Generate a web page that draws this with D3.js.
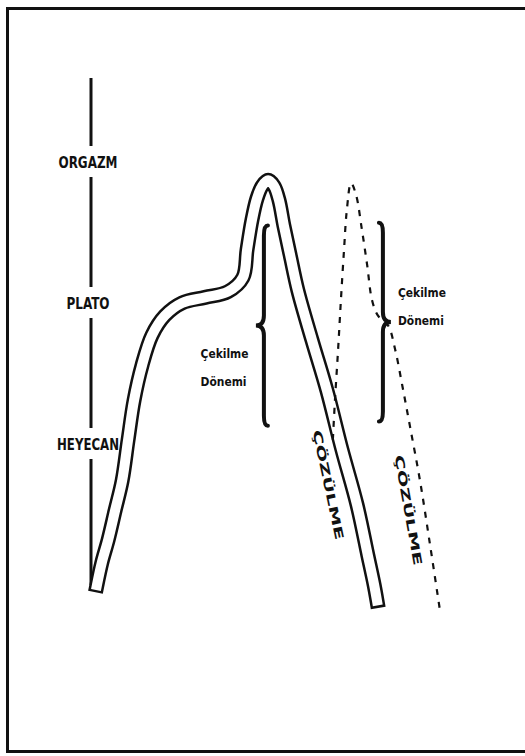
<!DOCTYPE html>
<html>
<head>
<meta charset="utf-8">
<script src="https://cdn.jsdelivr.net/npm/d3@7"></script>
<style>
  html, body { margin: 0; padding: 0; background: #fff; overflow: hidden; }
  svg { display: block; }
  text { font-family: "Liberation Sans Narrow", "DejaVu Sans Condensed", "Liberation Sans", sans-serif; fill: #111; }
</style>
</head>
<body>
<svg id="chart"></svg>
<script>
// response cycle sketch: time on x (0-100), level on y (0 base .. 3 orgasm)
const W = 525, H = 756;

const levelNames = ['HEYECAN', 'PLATO', 'ORGAZM'];
const levelValues = [1, 2, 3];

// first cycle (centre line of the double band)
const cycleT = [1.7, 3.1, 4.9, 6.9, 8.9, 10.6, 12.3, 14.6, 17.4, 21.1, 26, 32.6, 39.1, 43.4, 44.6, 46, 47.4, 48.9, 50.6, 52.3, 53.7, 55.1, 56.9, 59.1, 63.1, 67.4, 71.7, 76, 79.1, 80.9, 81.7];
const cycleL = [0, 0.16, 0.32, 0.53, 0.74, 1.03, 1.31, 1.56, 1.77, 1.91, 2.0, 2.04, 2.08, 2.18, 2.38, 2.59, 2.74, 2.83, 2.87, 2.83, 2.73, 2.55, 2.34, 2.09, 1.74, 1.38, 0.96, 0.57, 0.21, 0.0, -0.11];

// second (dashed) cycle
const secondT = [69.1, 69.7, 70.6, 71.4, 72.3, 73.1, 74.3, 75.7, 77.4, 78.9, 80.3, 82, 84.9, 86.9, 88.9, 91.1, 94, 96.9, 99.7];
const secondL = [1.03, 1.31, 1.67, 2.02, 2.38, 2.66, 2.85, 2.77, 2.52, 2.27, 2.02, 1.91, 1.84, 1.67, 1.42, 1.13, 0.74, 0.28, -0.18];

// refractory braces
const braceT = [49.4, 83.4];
const braceTop = [2.55, 2.57];
const braceBottom = [1.13, 1.16];
const braceSide = [-1, 1];
const braceLabel = ['Çekilme', 'Dönemi'];
const braceLabelT = [31.3, 87.7];
const braceLabelL = [1.61, 2.04];

// resolution labels along the falling limbs
const resolutionText = 'ÇÖZÜLME';
const resolutionT = [67.7, 90.6];
const resolutionL = [0.71, 0.53];

const x = d3.scaleLinear().domain([0, 100]).range([91, 441]);
const y = d3.scaleLinear().domain([0, 3]).range([585, 162]);

const svg = d3.select('#chart').attr('width', W).attr('height', H);

// frame (right side runs off the page)
svg.append('rect')
  .attr('x', 7.5).attr('y', 8.5)
  .attr('width', 560).attr('height', 743)
  .attr('fill', 'none')
  .attr('stroke', '#111')
  .attr('stroke-width', 3);

// level axis, broken by the labels
const gaps = levelValues.map(v => [y(v) - 16, y(v) + 15]);
const segStarts = [78].concat(gaps.map(g => g[1]).reverse());
const segEnds = gaps.map(g => g[0]).reverse().concat([y(0)]);
svg.append('g').selectAll('line')
  .data(d3.range(segStarts.length))
  .join('line')
  .attr('x1', x(0)).attr('x2', x(0))
  .attr('y1', i => segStarts[i])
  .attr('y2', i => segEnds[i])
  .attr('stroke', '#111')
  .attr('stroke-width', 3);

const labelWidth = { HEYECAN: 62, PLATO: 43, ORGAZM: 59 };
svg.append('g').selectAll('text')
  .data(levelNames)
  .join('text')
  .attr('x', x(0) - 3)
  .attr('y', (d, i) => y(levelValues[i]) + 6)
  .attr('text-anchor', 'middle')
  .attr('font-size', 15)
  .attr('font-weight', 'bold')
  .attr('textLength', d => labelWidth[d])
  .attr('lengthAdjust', 'spacingAndGlyphs')
  .text(d => d);

// first cycle as a hollow band
const line = d3.line()
  .x(d => x(d[0]))
  .y(d => y(d[1]))
  .curve(d3.curveCatmullRom.alpha(0.5));

const cycle = cycleT.map((t, i) => [t, cycleL[i]]);
svg.append('path')
  .attr('d', line(cycle))
  .attr('fill', 'none')
  .attr('stroke', '#111')
  .attr('stroke-width', 15)
  .attr('stroke-linecap', 'square')
  .attr('stroke-linejoin', 'round');
svg.append('path')
  .attr('d', line(cycle))
  .attr('fill', 'none')
  .attr('stroke', '#fff')
  .attr('stroke-width', 10)
  .attr('stroke-linecap', 'square')
  .attr('stroke-linejoin', 'round');

// second cycle, dashed
const second = secondT.map((t, i) => [t, secondL[i]]);
svg.append('path')
  .attr('d', line(second))
  .attr('fill', 'none')
  .attr('stroke', '#111')
  .attr('stroke-width', 2.2)
  .attr('stroke-dasharray', '6,7');

// curly braces
function bracePath(bx, y0, y1, side) {
  const ym = (y0 + y1) / 2, w = 8;
  return `M${bx - side * 4},${y0} Q${bx},${y0} ${bx},${y0 + 10}`
    + ` L${bx},${ym - 10} Q${bx},${ym} ${bx + side * w},${ym}`
    + ` Q${bx},${ym} ${bx},${ym + 10}`
    + ` L${bx},${y1 - 10} Q${bx},${y1} ${bx - side * 4},${y1}`;
}
svg.append('g').selectAll('path')
  .data(d3.range(braceT.length))
  .join('path')
  .attr('d', i => bracePath(x(braceT[i]), y(braceTop[i]), y(braceBottom[i]), braceSide[i]))
  .attr('fill', 'none')
  .attr('stroke', '#111')
  .attr('stroke-width', 4)
  .attr('stroke-linecap', 'round');

const gLab = svg.append('g');
braceLabelT.forEach((t, i) => {
  braceLabel.forEach((s, j) => {
    gLab.append('text')
      .attr('x', x(t))
      .attr('y', y(braceLabelL[i]) + j * 28)
      .attr('font-size', 13)
      .attr('font-weight', 'bold')
      .attr('textLength', j === 0 ? 48 : 46)
      .attr('lengthAdjust', 'spacingAndGlyphs')
      .text(s);
  });
});

// rotated resolution labels
svg.append('g').selectAll('text')
  .data(resolutionT)
  .join('text')
  .attr('transform', (t, i) => `translate(${x(t)},${y(resolutionL[i])}) rotate(${i === 0 ? 78 : 80})`)
  .attr('text-anchor', 'middle')
  .attr('dy', 4)
  .attr('font-size', 12)
  .attr('font-weight', 600)
  .attr('textLength', 112)
  .attr('lengthAdjust', 'spacingAndGlyphs')
  .text(resolutionText);
</script>
</body>
</html>
